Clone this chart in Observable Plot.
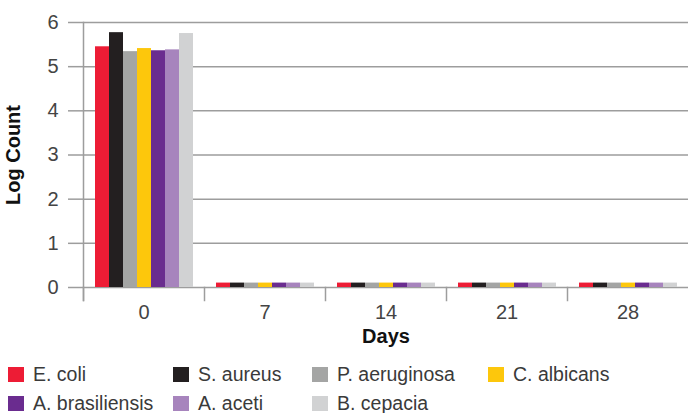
<!DOCTYPE html>
<html>
<head>
<meta charset="utf-8">
<script src="https://cdn.jsdelivr.net/npm/d3@7"></script>
<script src="https://cdn.jsdelivr.net/npm/@observablehq/plot@0.6"></script>
<style>
  html, body { margin: 0; padding: 0; background: #fff; }
  #chart svg { display: block; }
  #legend {
    display: grid;
    grid-template-columns: 165px 139px 176px auto;
    grid-auto-rows: 29px;
    margin-top: 0px;
    padding-left: 8px;
    font-family: "Liberation Sans", Arial, sans-serif;
    font-size: 19.5px;
    color: #3a3a3a;
  }
  .item { display: flex; align-items: center; white-space: nowrap; }
  .sw { width: 16px; height: 15px; margin-right: 9px; flex: none; }
</style>
</head>
<body>
<div id="chart"></div>
<div id="legend"></div>
<script>
const days = ["0", "7", "14", "21", "28"];
const species = ["E. coli", "S. aureus", "P. aeruginosa", "C. albicans", "A. brasiliensis", "A. aceti", "B. cepacia"];
const colors = ["#ed1c35", "#231f20", "#a4a5a4", "#fdc70c", "#6a2c8f", "#a784bd", "#d1d2d3"];
const day0 = [5.45, 5.77, 5.34, 5.41, 5.36, 5.38, 5.75];
const day7 = [0.1, 0.1, 0.1, 0.1, 0.1, 0.1, 0.1];
const day14 = [0.1, 0.1, 0.1, 0.1, 0.1, 0.1, 0.1];
const day21 = [0.1, 0.1, 0.1, 0.1, 0.1, 0.1, 0.1];
const day28 = [0.1, 0.1, 0.1, 0.1, 0.1, 0.1, 0.1];
const yTicks = [0, 1, 2, 3, 4, 5, 6];

const series = [day0, day7, day14, day21, day28];
const data = days.flatMap((d, i) => species.map((s, j) => ({day: d, species: s, value: series[i][j]})));

const gray = "#9d9d9d";
const marginTop = 22, marginBottom = 73, height = 360;
const innerH = height - marginTop - marginBottom;

const chart = Plot.plot({
  width: 689,
  height,
  marginLeft: 82,
  marginRight: 0,
  marginTop,
  marginBottom,
  style: {fontFamily: "'Liberation Sans', Arial, sans-serif", fontSize: "20px", color: "#444", background: "#fff"},
  fx: {domain: days, padding: 0},
  x: {domain: species, paddingInner: 0, paddingOuter: 0.75, axis: null},
  y: {domain: [0, 6]},
  color: {domain: species, range: colors},
  marks: [
    Plot.gridY(yTicks, {stroke: gray, strokeOpacity: 1, strokeWidth: 1.5}),
    Plot.frame({anchor: "left", stroke: gray, strokeWidth: 1.5, insetTop: innerH, insetBottom: -13}),
    Plot.frame({anchor: "left", facetAnchor: "left", stroke: gray, strokeWidth: 1.5, insetBottom: -13}),
    Plot.barY(data, {fx: "day", x: "species", y: "value", fill: "species"}),
    Plot.axisY(yTicks, {
      tickSize: 15, tickPadding: 10, stroke: gray, strokeWidth: 1.5, strokeOpacity: 1,
      label: "Log Count", labelAnchor: "center", labelOffset: 78, labelArrow: false
    }),
    Plot.axisFx({
      anchor: "bottom", tickSize: 0, tickPadding: 17,
      label: "Days", labelAnchor: "center", labelOffset: 55, labelArrow: false
    })
  ]
});

d3.select(chart).selectAll("[aria-label='y-axis label'] text, [aria-label='fx-axis label'] text")
  .attr("font-weight", "bold").attr("fill", "#111").style("font-size", "20px");

document.getElementById("chart").appendChild(chart);

const legend = document.getElementById("legend");
species.forEach((s, i) => {
  const item = document.createElement("div");
  item.className = "item";
  const sw = document.createElement("span");
  sw.className = "sw";
  sw.style.background = colors[i];
  item.appendChild(sw);
  item.appendChild(document.createTextNode(s));
  legend.appendChild(item);
});
</script>
</body>
</html>
